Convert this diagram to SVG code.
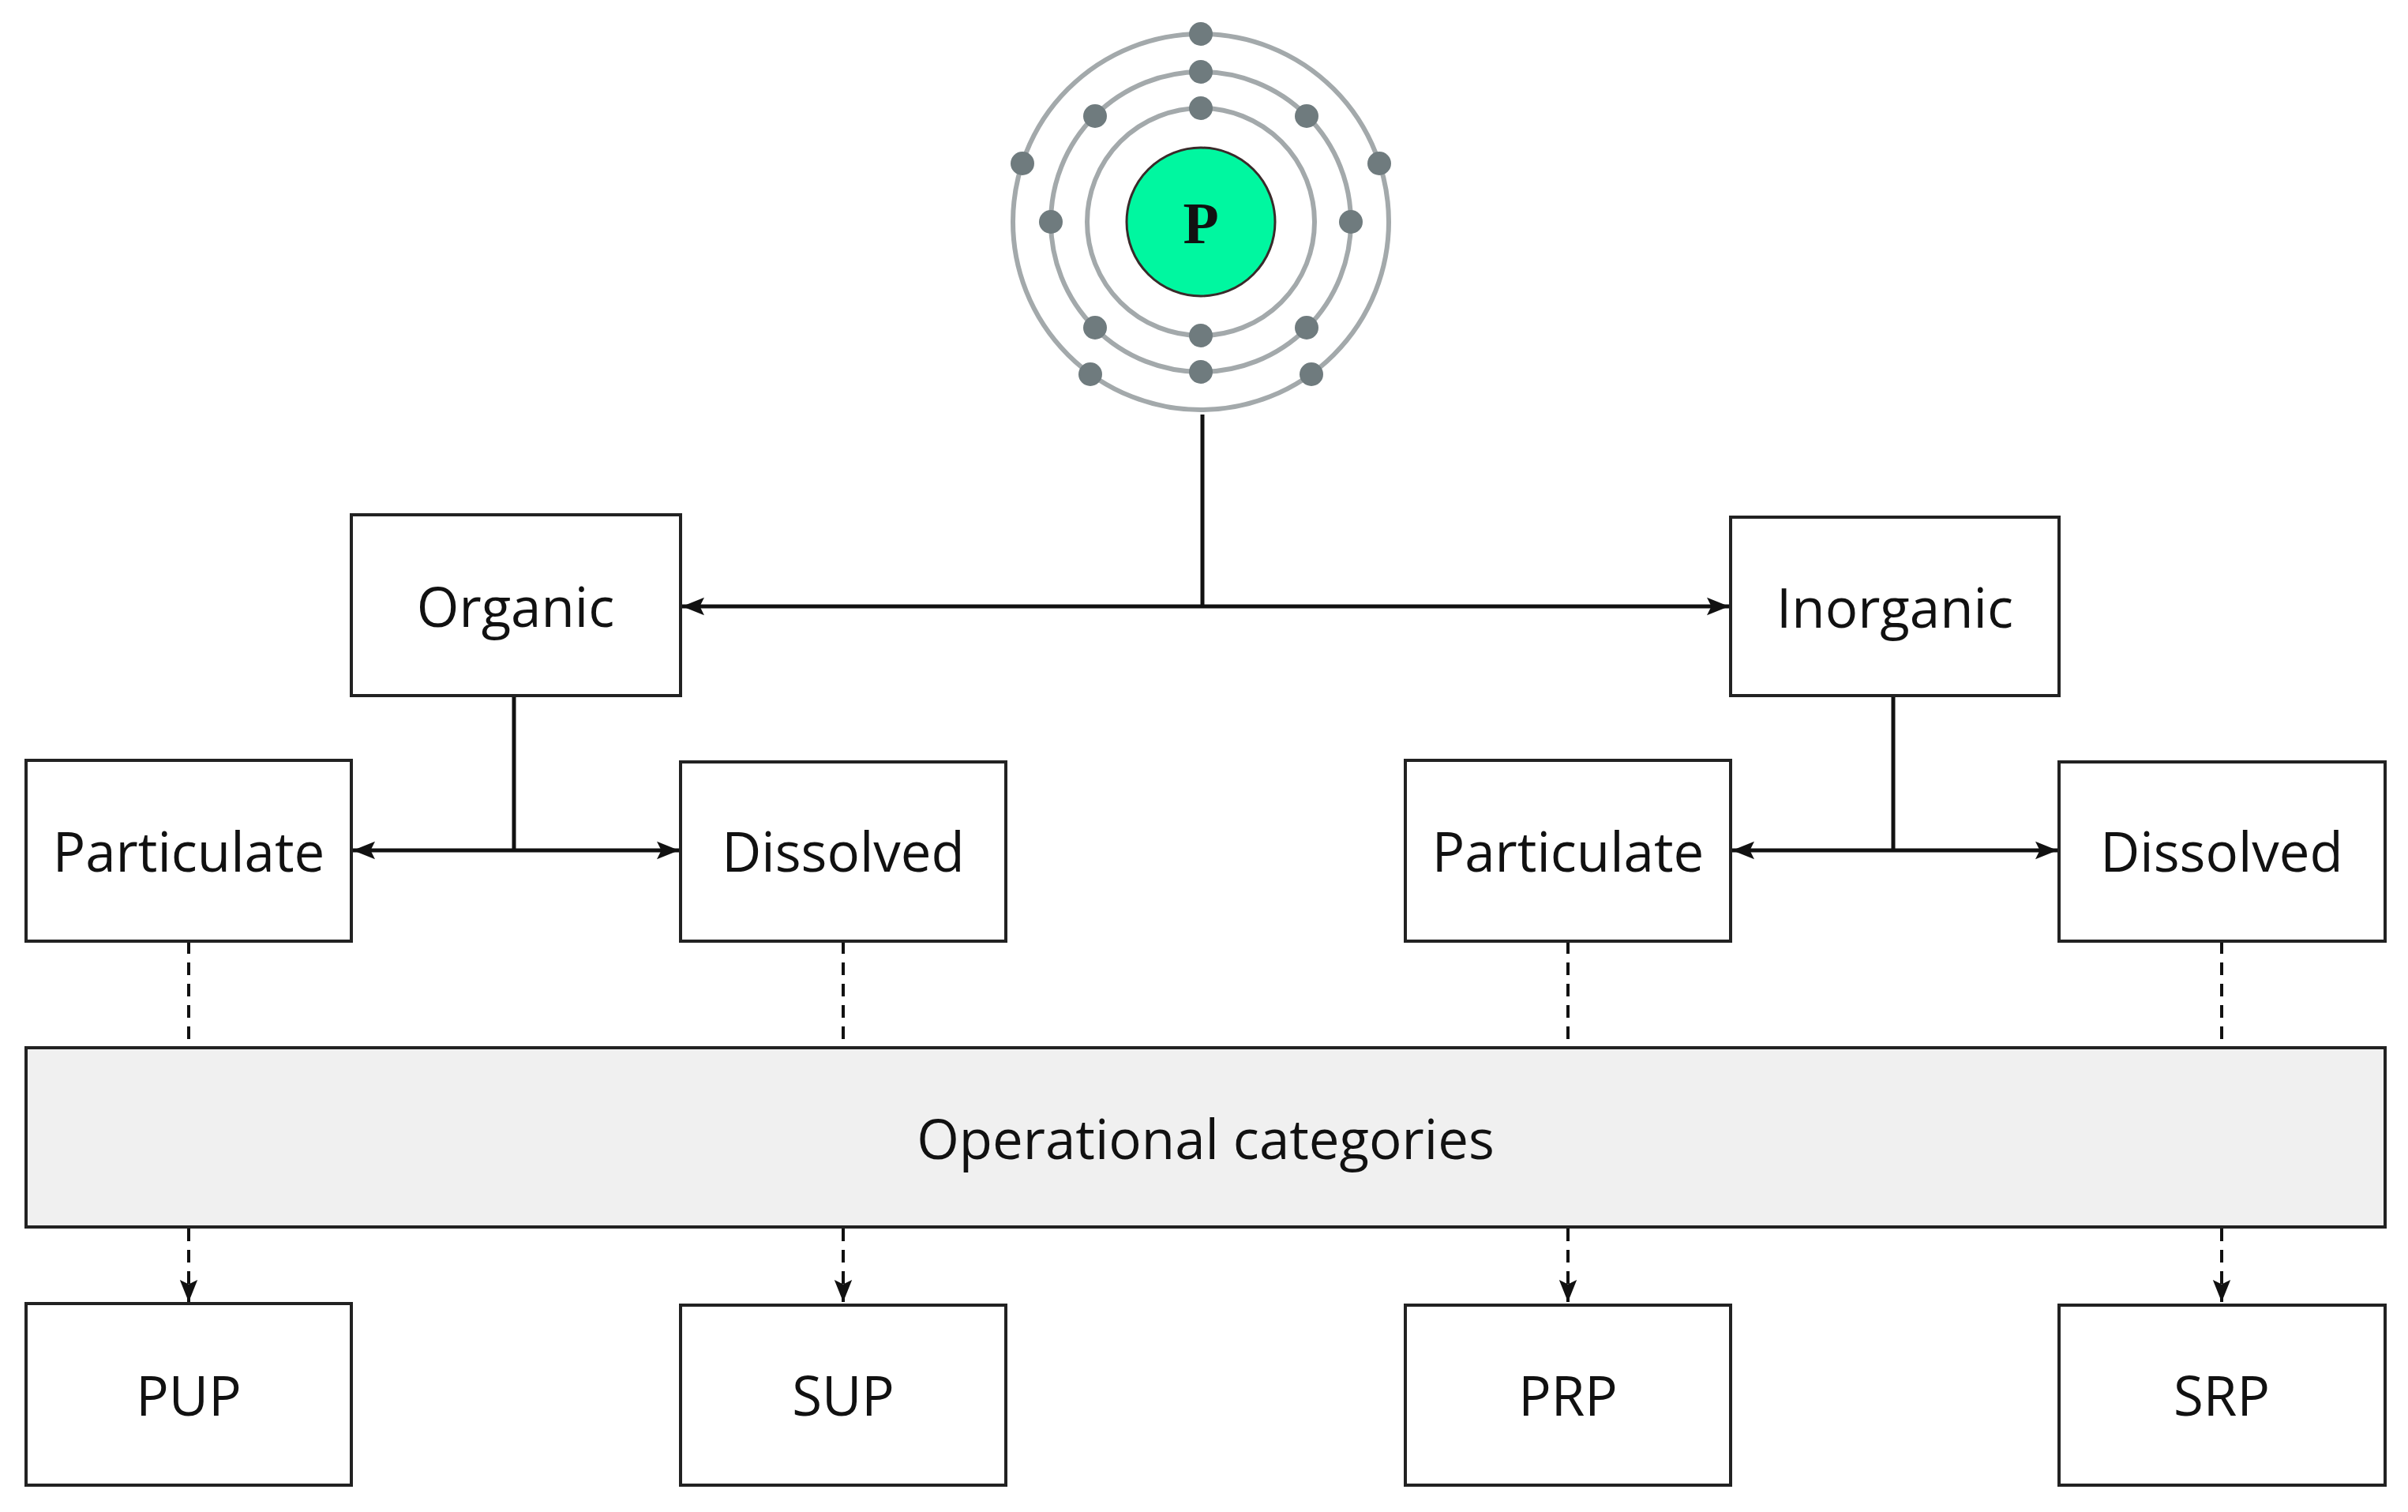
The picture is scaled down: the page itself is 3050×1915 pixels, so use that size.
<svg xmlns="http://www.w3.org/2000/svg" width="3050" height="1915" viewBox="0 0 3050 1915">
<style>
.box{fill:#fff;stroke:#222;stroke-width:4}
.lbl{font-family:"Open Sans","Liberation Sans",sans-serif;font-size:69px;fill:#111;text-anchor:middle;dominant-baseline:central}
.ln{stroke:#111;stroke-width:5;fill:none}
.dash{stroke:#111;stroke-width:4;fill:none;stroke-dasharray:16 11}
.orb{fill:none;stroke:#a3a9ab;stroke-width:6}
.e{fill:#6f7b7e}
</style>
<defs>
<marker id="ah2" viewBox="0 0 10 10" refX="10" refY="5" markerWidth="28" markerHeight="28" orient="auto-start-reverse" markerUnits="userSpaceOnUse">
<path d="M0,1 L10,5 L0,9 L2,5 Z" fill="#111"/>
</marker>
</defs>
<rect width="3050" height="1915" fill="#fff"/>
<g id="atom">
<circle class="orb" cx="1521" cy="281" r="144"/>
<circle class="orb" cx="1521" cy="281" r="190"/>
<circle class="orb" cx="1521" cy="281" r="238"/>
<circle cx="1521" cy="281" r="94" fill="#00f7a0" stroke="#3a2a2a" stroke-width="3"/>
<text x="1521" y="283" font-family="Liberation Serif,serif" font-weight="bold" font-size="74" text-anchor="middle" dominant-baseline="central" fill="#111">P</text>
<circle class="e" cx="1521" cy="137" r="15"/>
<circle class="e" cx="1521" cy="425" r="15"/>
<circle class="e" cx="1521" cy="91" r="15"/>
<circle class="e" cx="1521" cy="471" r="15"/>
<circle class="e" cx="1331" cy="281" r="15"/>
<circle class="e" cx="1711" cy="281" r="15"/>
<circle class="e" cx="1387" cy="147" r="15"/>
<circle class="e" cx="1655" cy="147" r="15"/>
<circle class="e" cx="1387" cy="415" r="15"/>
<circle class="e" cx="1655" cy="415" r="15"/>
<circle class="e" cx="1521" cy="43" r="15"/>
<circle class="e" cx="1295" cy="207" r="15"/>
<circle class="e" cx="1747" cy="207" r="15"/>
<circle class="e" cx="1381" cy="474" r="15"/>
<circle class="e" cx="1661" cy="474" r="15"/>
</g>
<g id="connectors">
<line class="ln" x1="1523" y1="525" x2="1523" y2="768"/>
<line class="ln" x1="864" y1="768" x2="2190" y2="768" marker-start="url(#ah2)" marker-end="url(#ah2)"/>
<line class="ln" x1="651" y1="881" x2="651" y2="1077"/>
<line class="ln" x1="447" y1="1077" x2="860" y2="1077" marker-start="url(#ah2)" marker-end="url(#ah2)"/>
<line class="ln" x1="2398" y1="881" x2="2398" y2="1077"/>
<line class="ln" x1="2194" y1="1077" x2="2606" y2="1077" marker-start="url(#ah2)" marker-end="url(#ah2)"/>
<line class="dash" x1="239" y1="1192" x2="239" y2="1327"/>
<line class="dash" x1="1068" y1="1192" x2="1068" y2="1327"/>
<line class="dash" x1="1986" y1="1192" x2="1986" y2="1327"/>
<line class="dash" x1="2814" y1="1192" x2="2814" y2="1327"/>
<line class="dash" x1="239" y1="1556" x2="239" y2="1649" marker-end="url(#ah2)"/>
<line class="dash" x1="1068" y1="1556" x2="1068" y2="1649" marker-end="url(#ah2)"/>
<line class="dash" x1="1986" y1="1556" x2="1986" y2="1649" marker-end="url(#ah2)"/>
<line class="dash" x1="2814" y1="1556" x2="2814" y2="1649" marker-end="url(#ah2)"/>
</g>
<g id="organic"><rect class="box" x="445" y="652" width="417" height="229"/><text class="lbl" x="653" y="767">Organic</text></g>
<g id="inorganic"><rect class="box" x="2192" y="655" width="416" height="226"/><text class="lbl" x="2400" y="768">Inorganic</text></g>
<g id="particulate-org"><rect class="box" x="33" y="963" width="412" height="229"/><text class="lbl" x="239" y="1077">Particulate</text></g>
<g id="dissolved-org"><rect class="box" x="862" y="965" width="412" height="227"/><text class="lbl" x="1068" y="1077">Dissolved</text></g>
<g id="particulate-inorg"><rect class="box" x="1780" y="963" width="412" height="229"/><text class="lbl" x="1986" y="1077">Particulate</text></g>
<g id="dissolved-inorg"><rect class="box" x="2608" y="965" width="413" height="227"/><text class="lbl" x="2814" y="1077">Dissolved</text></g>
<g id="operational"><rect x="33" y="1327" width="2988" height="227" fill="#f0f0f0" stroke="#222" stroke-width="4"/><text class="lbl" x="1527" y="1441">Operational categories</text></g>
<g id="pup"><rect class="box" x="33" y="1651" width="412" height="230"/><text class="lbl" x="239" y="1766">PUP</text></g>
<g id="sup"><rect class="box" x="862" y="1653" width="412" height="228"/><text class="lbl" x="1068" y="1766">SUP</text></g>
<g id="prp"><rect class="box" x="1780" y="1653" width="412" height="228"/><text class="lbl" x="1986" y="1766">PRP</text></g>
<g id="srp"><rect class="box" x="2608" y="1653" width="413" height="228"/><text class="lbl" x="2814" y="1766">SRP</text></g>
</svg>
